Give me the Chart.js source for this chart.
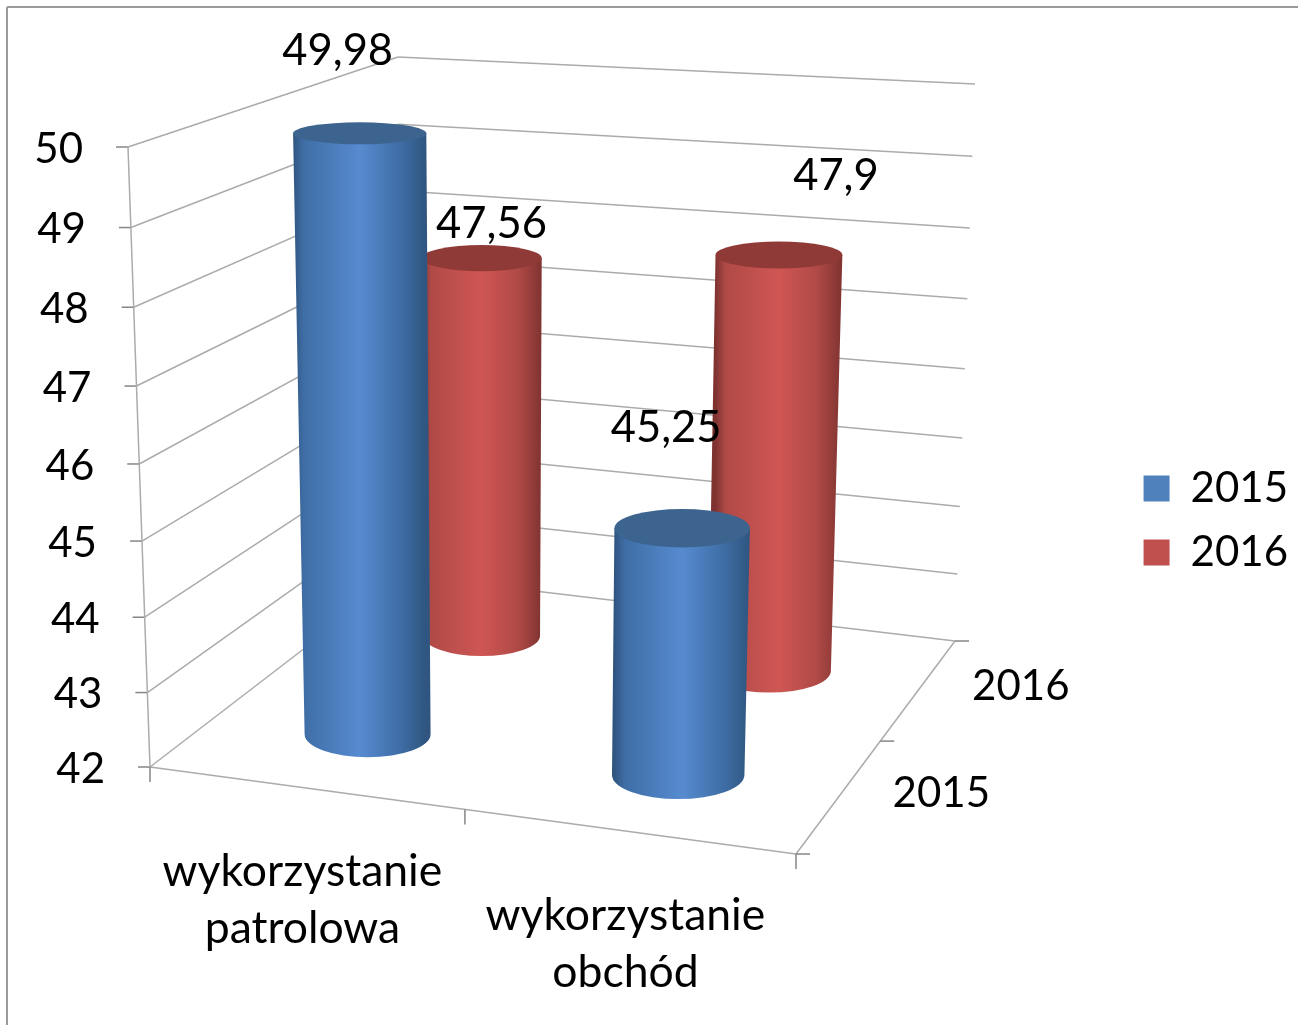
<!DOCTYPE html>
<html>
<head>
<meta charset="utf-8">
<title>wykorzystanie</title>
<script src="https://cdn.jsdelivr.net/npm/chart.js@4"></script>
<style>
    html, body { margin: 0; padding: 0; background: #fff; }
    #wrap { width: 1298px; height: 1025px; position: relative; }
</style>
</head>
<body>
<div id="wrap"><canvas id="chart3d"></canvas></div>
<script>
const categories = [['wykorzystanie', 'patrolowa'], ['wykorzystanie', 'obchód']];
const years = ['2015', '2016'];
const values2015 = [49.98, 45.25];
const values2016 = [47.56, 47.9];
const valueMin = 42;
const valueMax = 50;

// pixel corners of the 3D box: front/back, left/right, top/bottom
const box = {
    flt: [128, 147], flb: [150, 767], frt: [815, 190], frb: [796, 854],
    blt: [398, 57], blb: [400, 575], brt: [975, 84], brb: [955, 641]
};
// how much each axis bends, a cheap stand-in for real perspective
const bend = { u: -0.05, d: 0.12, v: 0.045 };
const radiusU = 0.104;
const radiusD = 0.11;
const numberFont = '42px Lato';
const valueFont = '43.5px Lato';
const nameFont = '44.5px Lato';
// value label shift from the top of each cylinder, per year then category
const valueShift = [[[-22, -82], [-16, -100]], [[10, -34], [57, -79]]];
const blueShades = { rim: '#2f5580', edge: '#3f6ea6', mid: '#568bd0', top: '#3d648f' };
const redShades = { rim: '#7f3331', edge: '#b04a47', mid: '#cf5653', top: '#903a38' };

function mix(a, b, t) {
    return [a[0] + (b[0] - a[0]) * t, a[1] + (b[1] - a[1]) * t];
}

function project(u0, d0, v0) {
    const u = u0 + bend.u * u0 * (1 - u0);
    const d = d0 + bend.d * d0 * (1 - d0);
    const v = v0 + bend.v * v0 * (1 - v0);
    const front = mix(mix(box.flt, box.frt, u), mix(box.flb, box.frb, u), v);
    const back = mix(mix(box.blt, box.brt, u), mix(box.blb, box.brb, u), v);
    return mix(front, back, d);
}

function drawLine(ctx, a, b, color, width) {
    ctx.strokeStyle = color;
    ctx.lineWidth = width;
    ctx.beginPath();
    ctx.moveTo(a[0], a[1]);
    ctx.lineTo(b[0], b[1]);
    ctx.stroke();
}

function drawWalls(chart) {
    const ctx = chart.ctx;
    const y = chart.scales.y;
    const gridColor = '#ababab';
    const tickColor = '#868686';
    const frac = val => (y.getPixelForValue(val) - y.top) / y.height;

    // picture frame, only top and left show in the original
    drawLine(ctx, [7, 7], [1298, 7], '#9a9a9a', 2);
    drawLine(ctx, [7, 7], [7, 1025], '#9a9a9a', 2);

    y.ticks.forEach(t => {
        const v = frac(t.value);
        const a = project(0, 0, v);
        const b = project(0, 1, v);
        const c = project(1, 1, v);
        drawLine(ctx, a, b, gridColor, 1.5);
        drawLine(ctx, b, c, gridColor, 1.5);
        drawLine(ctx, [a[0] - 12, a[1]], a, tickColor, 1.5);
    });
    drawLine(ctx, project(0, 0, 0), project(0, 0, 1), gridColor, 1.5);
    drawLine(ctx, project(0, 0, 1), project(1, 0, 1), gridColor, 1.5);
    drawLine(ctx, project(1, 0, 1), project(1, 1, 1), gridColor, 1.5);

    [0, 0.5, 1].forEach(u => {
        const p = project(u, 0, 1);
        drawLine(ctx, p, [p[0], p[1] + 15], tickColor, 1.5);
    });
    [0, 0.5, 1].forEach(d => {
        const p = project(1, d, 1);
        drawLine(ctx, p, [p[0] + 14, p[1]], tickColor, 1.5);
    });
}

function drawCylinder(ctx, u, d, vTop, vBase, shades) {
    const topC = project(u, d, vTop);
    const baseC = project(u, d, vBase);
    const radii = v => [
        (project(u + radiusU, d, v)[0] - project(u - radiusU, d, v)[0]) / 2,
        (project(u, d - radiusD, v)[1] - project(u, d + radiusD, v)[1]) / 2
    ];
    const [trx, tryy] = radii(vTop);
    const [brx, bry] = radii(vBase);

    const g = ctx.createLinearGradient(topC[0] - trx, 0, topC[0] + trx, 0);
    g.addColorStop(0, shades.rim);
    g.addColorStop(0.08, shades.edge);
    g.addColorStop(0.5, shades.mid);
    g.addColorStop(0.8, shades.edge);
    g.addColorStop(1, shades.rim);

    ctx.fillStyle = g;
    ctx.beginPath();
    ctx.moveTo(topC[0] - trx, topC[1]);
    ctx.lineTo(baseC[0] - brx, baseC[1]);
    ctx.ellipse(baseC[0], baseC[1], brx, bry, 0, Math.PI, 0, true);
    ctx.lineTo(topC[0] + trx, topC[1]);
    ctx.closePath();
    ctx.fill();

    ctx.fillStyle = shades.top;
    ctx.beginPath();
    ctx.ellipse(topC[0], topC[1], trx, tryy, 0, 0, Math.PI * 2);
    ctx.fill();
}

function drawText(ctx, text, x, y, font, align) {
    ctx.font = font;
    ctx.fillStyle = '#000';
    ctx.textAlign = align || 'center';
    ctx.textBaseline = 'middle';
    ctx.fillText(text, x, y);
}

// chart.js has no 3D bars, so the cylinders are drawn from the bar elements it lays out
const cylinderPlugin = {
    id: 'cylinders',
    beforeDatasetsDraw(chart) {
        const ctx = chart.ctx;
        const { x, y, z } = chart.scales;
        const fracU = px => (px - x.left) / x.width;
        const fracV = px => Math.min((px - y.top) / y.height, 1);
        const fracD = i => (z.getPixelForValue(i) - z.left) / z.width;
        ctx.save();
        drawWalls(chart);

        // back row first so the front row covers it
        [1, 0].forEach(row => {
            const meta = chart.getDatasetMeta(row);
            const shades = row === 0 ? blueShades : redShades;
            meta.data.forEach(bar => {
                drawCylinder(ctx, fracU(bar.x), fracD(row), fracV(bar.y), fracV(bar.base), shades);
            });
        });

        y.ticks.forEach(t => {
            const p = project(0, 0, fracV(y.getPixelForValue(t.value)));
            drawText(ctx, String(t.value), p[0] - 45, p[1] + 2, numberFont, 'right');
        });

        chart.data.datasets.forEach((ds, row) => {
            chart.getDatasetMeta(row).data.forEach((bar, i) => {
                const p = project(fracU(bar.x), fracD(row), fracV(bar.y));
                const s = valueShift[row][i];
                drawText(ctx, String(ds.data[i]).replace('.', ','), p[0] + s[0], p[1] + s[1], valueFont);
            });
        });

        categories.forEach((lines, i) => {
            const p = project(fracU(x.getPixelForValue(i)), 0, 1);
            lines.forEach((line, n) => {
                drawText(ctx, line, p[0] - 3, p[1] + 84 + n * 57, nameFont);
            });
        });

        years.forEach((year, i) => {
            const p = project(1, fracD(i), 1);
            drawText(ctx, year, p[0] + 102, p[1] - 3, numberFont);
        });
        ctx.restore();
        return false;
    }
};

new Chart(document.getElementById('chart3d').getContext('2d'), {
    type: 'bar',
    data: {
        labels: categories,
        datasets: [
            { label: years[0], data: values2015, backgroundColor: '#4f81bd', grouped: false },
            { label: years[1], data: values2016, backgroundColor: '#c0504d', grouped: false }
        ]
    },
    options: {
        responsive: true,
        maintainAspectRatio: false,
        animation: false,
        layout: { padding: { top: 16, right: 0 } },
        scales: {
            x: { display: false, offset: true },
            z: { type: 'category', axis: 'x', labels: years, display: false, offset: true },
            y: { display: false, min: valueMin, max: valueMax, ticks: { stepSize: 1 } }
        },
        plugins: {
            tooltip: { enabled: false },
            legend: {
                position: 'right',
                onClick: null,
                labels: {
                    color: '#000',
                    font: { family: 'Lato', size: 42 },
                    boxWidth: 26,
                    boxHeight: 26,
                    padding: 22
                }
            }
        }
    },
    plugins: [cylinderPlugin]
});
</script>
</body>
</html>
